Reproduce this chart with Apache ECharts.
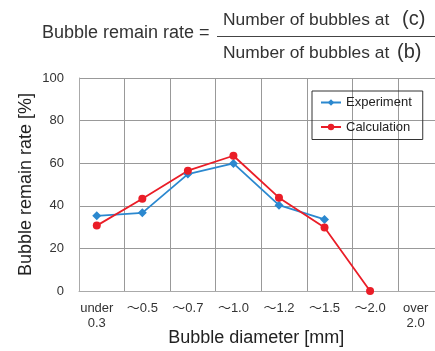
<!DOCTYPE html>
<html>
<head>
<meta charset="utf-8">
<script src="https://cdn.jsdelivr.net/npm/echarts@6/dist/echarts.min.js"></script>
<style>html,body{margin:0;padding:0;background:#fff;}#c{width:435px;height:351px;}</style>
</head>
<body>
<div id="c"></div>
<script>
const categories = ['under\n0.3', '～0.5', '～0.7', '～1.0', '～1.2', '～1.5', '～2.0', 'over\n2.0'];
const experiment = [35.3, 36.7, 54.9, 59.9, 40.3, 33.6, null, null];
const calculation = [30.7, 43.3, 56.5, 63.5, 43.8, 29.8, 0, null];
const yMin = 0, yMax = 100, yStep = 20;

const FONT = '"Liberation Sans", Arial, "Noto Sans CJK JP", sans-serif';
const chart = echarts.init(document.getElementById('c'));
chart.setOption({
  animation: false,
  textStyle: { fontFamily: FONT },
  graphic: [
    { type: 'text', x: 42, y: 33.5, style: { text: 'Bubble remain rate =', font: '18px ' + FONT, fill: '#333', align: 'left', verticalAlign: 'middle' } },
    { type: 'text', x: 223, y: 20, style: { text: 'Number of bubbles at', font: '17.4px ' + FONT, fill: '#333', align: 'left', verticalAlign: 'middle' } },
    { type: 'text', x: 402, y: 19, style: { text: '(c)', font: '20px ' + FONT, fill: '#333', align: 'left', verticalAlign: 'middle' } },
    { type: 'line', shape: { x1: 217, y1: 36.5, x2: 435, y2: 36.5 }, style: { stroke: '#444', lineWidth: 1 } },
    { type: 'text', x: 223, y: 53.5, style: { text: 'Number of bubbles at', font: '17.4px ' + FONT, fill: '#333', align: 'left', verticalAlign: 'middle' } },
    { type: 'text', x: 397, y: 52.5, style: { text: '(b)', font: '20px ' + FONT, fill: '#333', align: 'left', verticalAlign: 'middle' } }
  ],
  legend: {
    orient: 'vertical',
    left: 312, top: 91,
    padding: [5, 11, 6, 8],
    itemGap: 11.5,
    itemWidth: 20, itemHeight: 8,
    borderColor: '#333', borderWidth: 1,
    textStyle: { fontSize: 13, color: '#222', fontFamily: FONT },
    data: ['Experiment', 'Calculation']
  },
  grid: [
    { left: 79, top: 78, width: 364.4, height: 213, outerBoundsMode: 'none' },
    { left: 74, top: 78, width: 364.4, height: 213, outerBoundsMode: 'none' }
  ],
  xAxis: [
    {
      type: 'category', gridIndex: 0, data: categories, boundaryGap: true,
      axisLine: { lineStyle: { color: '#aaa', width: 1 } },
      axisTick: { show: false }, axisLabel: { show: false },
      splitLine: { show: true, lineStyle: { color: '#999', width: 1 } }
    },
    {
      type: 'category', gridIndex: 1, data: categories, boundaryGap: true,
      axisLine: { show: false }, axisTick: { show: false }, splitLine: { show: false },
      axisLabel: { interval: 0, fontSize: 13, color: '#333', lineHeight: 15, margin: 10, fontFamily: FONT },
      name: 'Bubble diameter [mm]', nameLocation: 'middle', nameGap: 38, nameMoveOverlap: false,
      nameTextStyle: { fontSize: 18, color: '#222', fontFamily: FONT }
    }
  ],
  yAxis: [
    {
      type: 'value', gridIndex: 0, min: yMin, max: yMax, interval: yStep,
      axisLine: { show: true, lineStyle: { color: '#aaa', width: 1 } },
      axisTick: { show: false },
      axisLabel: { fontSize: 13, color: '#333', margin: 15, fontFamily: FONT },
      splitLine: { show: true, lineStyle: { color: '#999', width: 1 } },
      name: 'Bubble remain rate [%]', nameLocation: 'middle', nameGap: 44, nameMoveOverlap: false,
      nameTextStyle: { fontSize: 18, color: '#222', fontFamily: FONT }
    },
    {
      type: 'value', gridIndex: 1, min: yMin, max: yMax, interval: yStep, show: false,
      splitLine: { show: false }
    }
  ],
  series: [
    {
      name: 'Experiment', type: 'line', xAxisIndex: 1, yAxisIndex: 1, data: experiment,
      symbol: 'diamond', symbolSize: 9, color: '#2b88cf',
      lineStyle: { width: 1.8, color: '#2b88cf' }, itemStyle: { color: '#2b88cf' }
    },
    {
      name: 'Calculation', type: 'line', xAxisIndex: 1, yAxisIndex: 1, data: calculation,
      symbol: 'circle', symbolSize: 8, color: '#ea1d27',
      lineStyle: { width: 1.8, color: '#ea1d27' }, itemStyle: { color: '#ea1d27' }
    }
  ]
});
</script>
</body>
</html>
